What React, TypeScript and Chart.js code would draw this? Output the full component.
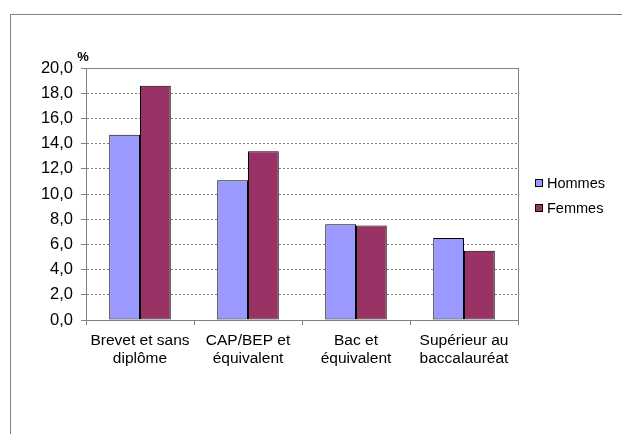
import React, { useEffect, useRef } from "react";
import { Chart, registerables } from "chart.js";

Chart.register(...registerables);

const categories: string[][] = [
  ["Brevet et sans", "diplôme"],
  ["CAP/BEP et", "équivalent"],
  ["Bac et", "équivalent"],
  ["Supérieur au", "baccalauréat"],
];
const hommes: number[] = [14.7, 11.1, 7.6, 6.5];
const femmes: number[] = [18.6, 13.4, 7.5, 5.5];
const seriesNames: string[] = ["Hommes", "Femmes"];
const seriesColors: string[] = ["#9999FF", "#993366"];
const yMin = 0;
const yMax = 20;
const yStep = 2;
const yUnit = "%";

const FONT = "'Liberation Sans', Arial, sans-serif";

const extrasPlugin = {
  id: "extras",
  afterDraw(chart: any) {
    const { ctx, chartArea } = chart;
    ctx.save();
    // plot area border
    ctx.strokeStyle = "#808080";
    ctx.lineWidth = 1;
    ctx.strokeRect(
      Math.round(chartArea.left) + 0.5,
      Math.round(chartArea.top) + 0.5,
      Math.round(chartArea.right - chartArea.left),
      Math.round(chartArea.bottom - chartArea.top)
    );
    // unit label
    ctx.fillStyle = "#000";
    ctx.font = `bold 13px ${FONT}`;
    ctx.textAlign = "center";
    ctx.textBaseline = "middle";
    ctx.fillText(yUnit, chartArea.left - 3, chartArea.top - 11);
    // legend
    const lx = 535;
    const ys = [183, 208];
    chart.data.datasets.forEach((ds: any, i: number) => {
      const y = ys[i];
      ctx.fillStyle = ds.backgroundColor;
      ctx.fillRect(lx, y - 4, 8, 8);
      ctx.strokeStyle = "#000";
      ctx.lineWidth = 1;
      ctx.strokeRect(lx + 0.5, y - 4 + 0.5, 7, 7);
      ctx.fillStyle = "#000";
      ctx.font = `14.5px ${FONT}`;
      ctx.textAlign = "left";
      ctx.textBaseline = "middle";
      ctx.fillText(ds.label, lx + 12, y + 1);
    });
    ctx.restore();
  },
};

export default function App() {
  const ref = useRef<HTMLCanvasElement>(null);

  useEffect(() => {
    if (!ref.current) return;
    const chart = new Chart(ref.current, {
      type: "bar",
      data: {
        labels: categories,
        datasets: [
          {
            label: seriesNames[0],
            data: hommes,
            backgroundColor: seriesColors[0],
            borderColor: "#000",
            borderWidth: 1,
            borderSkipped: false,
            barPercentage: 1,
            categoryPercentage: 0.57,
          },
          {
            label: seriesNames[1],
            data: femmes,
            backgroundColor: seriesColors[1],
            borderColor: "#000",
            borderWidth: 1,
            borderSkipped: false,
            barPercentage: 1,
            categoryPercentage: 0.57,
          },
        ],
      },
      options: {
        animation: false,
        responsive: false,
        maintainAspectRatio: false,
        layout: { padding: { top: 68, right: 104, bottom: 54, left: 0 } },
        plugins: {
          legend: { display: false },
          tooltip: { enabled: false },
        },
        scales: {
          x: {
            grid: {
              display: true,
              drawOnChartArea: false,
              drawTicks: true,
              tickLength: 5,
              tickColor: "#808080",
              offset: true,
            },
            border: { display: true, color: "#808080", width: 1 },
            ticks: {
              color: "#000",
              font: { family: FONT, size: 15.5 },
              padding: 6,
              maxRotation: 0,
              autoSkip: false,
            },
            afterFit: (s: any) => {
              s.height = 60;
            },
          },
          y: {
            min: yMin,
            max: yMax,
            grid: {
              color: "#808080",
              lineWidth: 1,
              drawTicks: true,
              tickLength: 5,
              tickColor: "#808080",
              tickBorderDash: [],
            },
            border: { display: true, color: "#808080", width: 1, dash: [2, 2] },
            ticks: {
              stepSize: yStep,
              color: "#000",
              font: { family: FONT, size: 16.5 },
              padding: 8,
              callback: (v: any) => Number(v).toFixed(1).replace(".", ","),
            },
            afterFit: (s: any) => {
              s.width = 86;
            },
          },
        },
      },
      plugins: [extrasPlugin],
    });
    return () => chart.destroy();
  }, []);

  return (
    <div
      style={{
        position: "fixed",
        left: 0,
        top: 0,
        width: 622,
        height: 434,
        overflow: "hidden",
        background: "#fff",
      }}
    >
      <div
        style={{
          position: "absolute",
          left: 10,
          top: 14,
          width: 700,
          height: 500,
          borderLeft: "1px solid #808080",
          borderTop: "1px solid #808080",
        }}
      />
      <canvas
        ref={ref}
        width={622}
        height={434}
        style={{ position: "absolute", left: 0, top: 0, width: 622, height: 434 }}
      />
    </div>
  );
}
